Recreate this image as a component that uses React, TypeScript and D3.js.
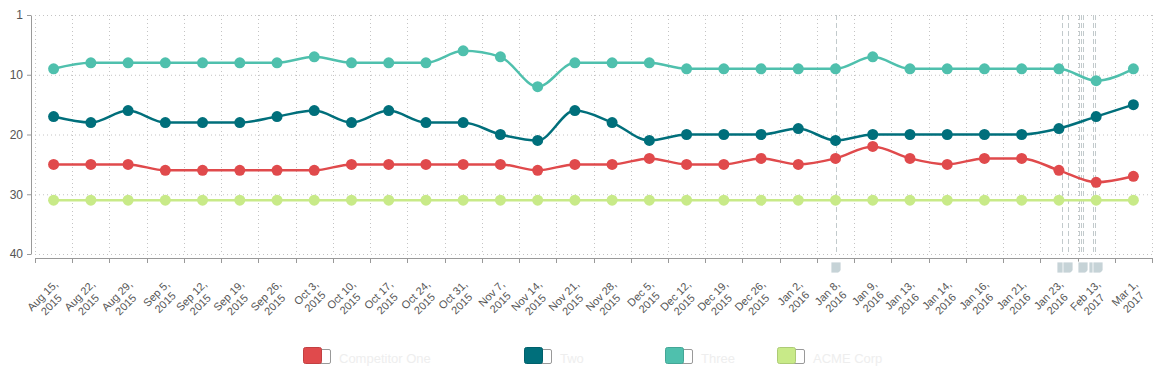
import React, { useRef, useEffect } from "react";
import * as d3 from "d3";

const categories = [
  "Aug 15, 2015", "Aug 22, 2015", "Aug 29, 2015", "Sep 5, 2015", "Sep 12, 2015",
  "Sep 19, 2015", "Sep 26, 2015", "Oct 3, 2015", "Oct 10, 2015", "Oct 17, 2015",
  "Oct 24, 2015", "Oct 31, 2015", "Nov 7, 2015", "Nov 14, 2015", "Nov 21, 2015",
  "Nov 28, 2015", "Dec 5, 2015", "Dec 12, 2015", "Dec 19, 2015", "Dec 26, 2015",
  "Jan 2, 2016", "Jan 8, 2016", "Jan 9, 2016", "Jan 13, 2016", "Jan 14, 2016",
  "Jan 16, 2016", "Jan 21, 2016", "Jan 23, 2016", "Feb 13, 2017", "Mar 1, 2017",
];

const competitorOne = [25, 25, 25, 26, 26, 26, 26, 26, 25, 25, 25, 25, 25, 26, 25, 25, 24, 25, 25, 24, 25, 24, 22, 24, 25, 24, 24, 26, 28, 27];
const two = [17, 18, 16, 18, 18, 18, 17, 16, 18, 16, 18, 18, 20, 21, 16, 18, 21, 20, 20, 20, 19, 21, 20, 20, 20, 20, 20, 19, 17, 15];
const three = [9, 8, 8, 8, 8, 8, 8, 7, 8, 8, 8, 6, 7, 12, 8, 8, 8, 9, 9, 9, 9, 9, 7, 9, 9, 9, 9, 9, 11, 9];
const acme = [31, 31, 31, 31, 31, 31, 31, 31, 31, 31, 31, 31, 31, 31, 31, 31, 31, 31, 31, 31, 31, 31, 31, 31, 31, 31, 31, 31, 31, 31];

const seriesNames = ["Competitor One", "Two", "Three", "ACME Corp"];
const seriesColors = ["#e04a4c", "#006f7b", "#4fc0ad", "#c8ea88"];

const yTickValues = [0, 10, 20, 30, 40];
const yTickLabels = ["1", "10", "20", "30", "40"];

// events as fractional category index
const eventLines = [21, 27.07, 27.24, 27.53, 27.59, 27.64, 27.91, 27.96];
const eventFlags = [21, 27.07, 27.24, 27.66, 27.93, 28.06];

export default function App() {
  const ref = useRef<SVGSVGElement>(null);

  useEffect(() => {
    const svg = d3.select(ref.current);
    svg.selectAll("*").remove();
    const width = 1169;
    const height = 374;
    const left = 35;
    const right = 1152;
    const top = 15;
    const bottom = 254;
    const font = "'Liberation Sans', Arial, sans-serif";

    svg.attr("width", width).attr("height", height);

    const x = d3.scaleBand().domain(categories).range([left, right]);
    const cx = (c: string) => (x(c) as number) + x.bandwidth() / 2;
    const xi = d3.scaleLinear().domain([0, categories.length - 1]).range([cx(categories[0]), cx(categories[categories.length - 1])]);
    const y = d3.scaleLinear().domain([0, 40]).range([top, bottom]);

    // grid
    const grid = svg.append("g").attr("stroke", "#c4c4c4").attr("stroke-dasharray", "1,3");
    grid.selectAll("line.h").data(yTickValues).join("line")
      .attr("x1", left).attr("x2", right)
      .attr("y1", (d) => y(d) + 0.5).attr("y2", (d) => y(d) + 0.5);
    const bounds = categories.map((c) => x(c) as number).concat([right]);
    grid.selectAll("line.v").data(bounds).join("line")
      .attr("class", "v")
      .attr("x1", (d) => Math.round(d) + 0.5).attr("x2", (d) => Math.round(d) + 0.5)
      .attr("y1", top).attr("y2", bottom);

    // event lines
    svg.append("g").attr("stroke", "#c2cacc").attr("stroke-dasharray", "5,3")
      .selectAll("line").data(eventLines).join("line")
      .attr("x1", (d) => Math.round(xi(d)) + 0.5).attr("x2", (d) => Math.round(xi(d)) + 0.5)
      .attr("y1", top).attr("y2", bottom);

    // y axis
    const yAxis = svg.append("g").attr("transform", "translate(31,0)")
      .call(d3.axisLeft(y).tickValues(yTickValues).tickFormat((d, i) => yTickLabels[i]).tickSize(4).tickSizeOuter(0).tickPadding(4));
    yAxis.select(".domain").attr("stroke", "#999");
    yAxis.selectAll(".tick line").attr("stroke", "#999");
    yAxis.selectAll("text").attr("fill", "#555").style("font", `12px ${font}`);

    // x axis
    const xAxis = svg.append("g");
    xAxis.append("line").attr("x1", left).attr("x2", right).attr("y1", 258.5).attr("y2", 258.5).attr("stroke", "#999");
    xAxis.selectAll("line.t").data(bounds).join("line")
      .attr("class", "t")
      .attr("x1", (d) => Math.round(d) + 0.5).attr("x2", (d) => Math.round(d) + 0.5)
      .attr("y1", 258).attr("y2", 263).attr("stroke", "#999");

    const labels = xAxis.selectAll("text.lab").data(categories).join("text")
      .attr("class", "lab")
      .attr("transform", (d) => `translate(${cx(d) + 5},${285}) rotate(-45)`)
      .attr("fill", "#555")
      .style("font", `11px ${font}`);
    labels.each(function (d) {
      const t = d3.select(this);
      const parts = [d.split(", ")[0] + ",", d.split(", ")[1]];
      const spans = parts.map((p, i) =>
        t.append("tspan").attr("text-anchor", "middle").attr("y", i * 12.5).text(p)
      );
      const w = Math.max(...spans.map((s) => (s.node() as SVGTSpanElement).getComputedTextLength()));
      spans.forEach((s) => s.attr("x", -w / 2));
    });

    // flags under axis
    svg.append("g").selectAll("g").data(eventFlags).join("g")
      .each(function (d) {
        const g = d3.select(this);
        const fx = Math.round(xi(d)) - 5;
        g.append("rect").attr("x", fx).attr("y", 262).attr("width", 10).attr("height", 11)
          .attr("fill", "#c6d3d7").attr("stroke", "#fff").attr("stroke-width", 0.8);
        g.append("path").attr("d", `M${fx + 10},${270} L${fx + 10},${273} L${fx + 7},${273} Z`).attr("fill", "#fff");
      });

    // series
    const allSeries = [competitorOne, two, three, acme];
    const line = d3.line<number>()
      .x((d, i) => cx(categories[i]))
      .y((d) => y(d))
      .curve(d3.curveMonotoneX);
    const order = [3, 0, 1, 2];
    order.forEach((si) => {
      const g = svg.append("g");
      g.append("path").attr("d", line(allSeries[si]) as string)
        .attr("fill", "none").attr("stroke", seriesColors[si]).attr("stroke-width", 2.5);
      g.selectAll("circle").data(allSeries[si]).join("circle")
        .attr("cx", (d, i) => cx(categories[i]))
        .attr("cy", (d) => y(d))
        .attr("r", 5.5)
        .attr("fill", seriesColors[si]);
    });

    // legend
    const legendX = [303, 524, 665, 777];
    const legend = svg.append("g");
    seriesNames.forEach((name, i) => {
      const lx = legendX[i];
      const g = legend.append("g");
      g.append("rect").attr("x", lx + 12.5).attr("y", 349.5).attr("width", 15).attr("height", 14)
        .attr("rx", 1.5).attr("fill", "#fff").attr("stroke", "#999");
      g.append("rect").attr("x", lx + 0.5).attr("y", 347.5).attr("width", 18).attr("height", 16)
        .attr("rx", 2).attr("fill", seriesColors[i])
        .attr("stroke", d3.color(seriesColors[i])!.darker(0.4).formatHex());
      g.append("text").attr("x", lx + 36).attr("y", 362.5)
        .attr("fill", "#eeeeee").style("font", `13px ${font}`).text(name);
    });
  }, []);

  return (
    <div>
      <svg ref={ref} style={{ position: "absolute", left: 0, top: 0, background: "#fff" }} />
    </div>
  );
}
